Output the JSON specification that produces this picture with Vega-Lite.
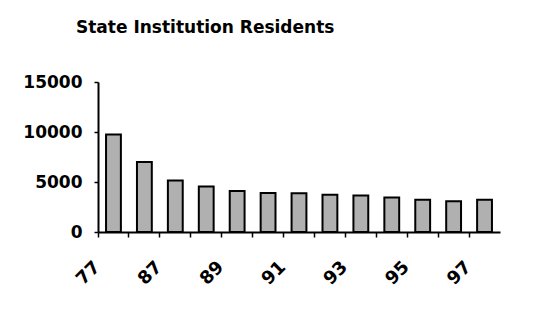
{
  "$schema": "https://vega.github.io/schema/vega-lite/v6.json",
  "autosize": "none",
  "width": 402,
  "height": 150,
  "padding": {"left": 98, "top": 82, "right": 44, "bottom": 92},
  "background": "white",
  "title": {
    "text": "State Institution Residents",
    "anchor": "start",
    "frame": "group",
    "dx": -22,
    "offset": 36,
    "font": "DejaVu Sans",
    "fontSize": 17,
    "fontWeight": "bold",
    "color": "black"
  },
  "data": {
    "values": [
      {"year": "77", "residents": 9750},
      {"year": "86", "residents": 7000},
      {"year": "87", "residents": 5150},
      {"year": "88", "residents": 4550},
      {"year": "89", "residents": 4100},
      {"year": "90", "residents": 3900},
      {"year": "91", "residents": 3880},
      {"year": "92", "residents": 3720},
      {"year": "93", "residents": 3660},
      {"year": "94", "residents": 3460},
      {"year": "95", "residents": 3230},
      {"year": "96", "residents": 3080},
      {"year": "97", "residents": 3230}
    ]
  },
  "mark": {"type": "bar", "width": {"band": 0.48}, "fill": "#b0b0b0", "stroke": "black", "strokeWidth": 2},
  "encoding": {
    "x": {
      "field": "year",
      "type": "ordinal",
      "sort": null,
      "scale": {"paddingInner": 0, "paddingOuter": 0},
      "axis": {
        "title": null,
        "bandPosition": 0,
        "labelAngle": -45,
        "labelAlign": "right",
        "labelBaseline": "middle",
        "labelPadding": 27,
        "labelOffset": -16,
        "labelExpr": "indexof(['77','87','89','91','93','95','97'], datum.value) >= 0 ? datum.value : ''",
        "labelFont": "DejaVu Sans",
        "labelFontSize": 18,
        "labelFontWeight": "bold",
        "labelColor": "black",
        "domainColor": "black",
        "domainWidth": 2,
        "tickColor": "black",
        "tickWidth": 1.5,
        "tickSize": 5,
        "labelOverlap": false
      }
    },
    "y": {
      "field": "residents",
      "type": "quantitative",
      "scale": {"domain": [0, 15000], "nice": false},
      "axis": {
        "title": null,
        "values": [0, 5000, 10000, 15000],
        "grid": false,
        "format": "d",
        "labelFont": "DejaVu Sans",
        "labelFontSize": 17,
        "labelFontWeight": "bold",
        "labelColor": "black",
        "labelPadding": 12,
        "domainColor": "black",
        "domainWidth": 2,
        "tickColor": "black",
        "tickWidth": 1.5,
        "tickSize": 4
      }
    }
  },
  "config": {"view": {"stroke": null}}
}
